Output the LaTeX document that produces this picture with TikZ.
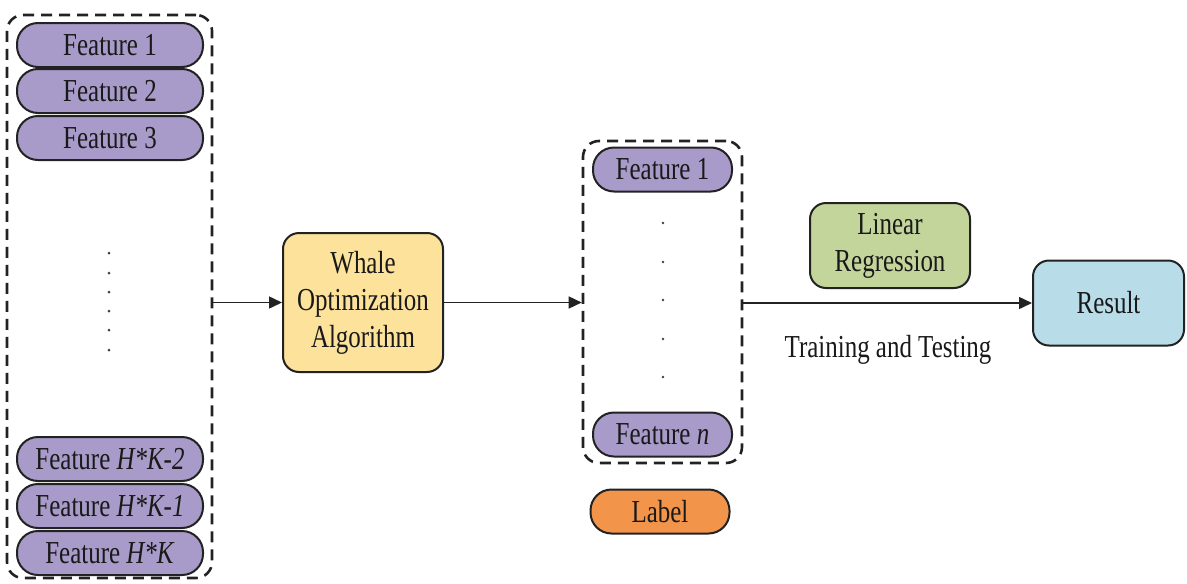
\documentclass[tikz,border=0pt]{standalone}
\usepackage{fontspec}
\setmainfont[FakeStretch=0.78]{Liberation Serif}
\usetikzlibrary{arrows.meta}
\definecolor{pillpurple}{HTML}{A89BC9}
\definecolor{whaleyellow}{HTML}{FCE29A}
\definecolor{lrgreen}{HTML}{C3D59B}
\definecolor{resblue}{HTML}{B8DDE9}
\definecolor{labelorange}{HTML}{F3944B}
\definecolor{edge}{HTML}{222222}
\begin{document}
\begin{tikzpicture}[x=1pt,y=-1pt,
  txt/.style={font=\fontsize{32}{37}\selectfont, text=black!90, align=center, inner sep=0pt},
  pill/.style={txt, draw=edge, line width=2pt, fill=pillpurple, rounded corners=21pt, minimum width=186pt, minimum height=44pt},
  pillm/.style={pill, minimum width=139pt},
  boxr/.style={txt, draw=edge, line width=2pt, rounded corners=16pt},
  group/.style={draw=edge, line width=2.6pt, dash pattern=on 11pt off 7pt, rounded corners=16pt, inner sep=0pt},
  conn/.style={draw=edge, line width=1.5pt, -{Triangle[length=13pt,width=12pt]}},
  dot/.style={circle, fill=black!75, inner sep=0pt, minimum size=3pt}
]
\useasboundingbox (0,0) rectangle (1187,584);
% left group
\node[group, minimum width=205pt, minimum height=563pt] (lg) at (109.5,296.5) {};
\node[pill] (f1) at (110,45) {Feature 1};
\node[pill] (f2) at (110,91) {Feature 2};
\node[pill] (f3) at (110,138) {Feature 3};
\node[pill] (fk2) at (110,459) {Feature \textit{H*K-2}};
\node[pill] (fk1) at (110,506) {Feature \textit{H*K-1}};
\node[pill] (fk) at (110,553) {Feature \textit{H*K}};
\foreach \y [count=\i] in {253,273,292,311,330,350} \node[dot] (ld\i) at (109,\y) {};
% whale
\node[boxr, fill=whaleyellow, minimum width=160pt, minimum height=139pt] (woa) at (363,302.5) {Whale\\Optimization\\Algorithm};
% middle group
\node[group, minimum width=159pt, minimum height=322pt] (mg) at (662.5,302) {};
\node[pillm] (m1) at (662.5,169.5) {Feature 1};
\node[pillm] (mn) at (662.5,434.5) {Feature \textit{n}};
\foreach \y [count=\i] in {223,262,300,339,377} \node[dot, minimum size=2.6pt] (md\i) at (663,\y) {};
\node[pillm, fill=labelorange] (lab) at (660,511.5) {Label};
% linear regression
\node[boxr, fill=lrgreen, minimum width=160pt, minimum height=85pt] (lr) at (890,245.5) {Linear\\Regression};
% result
\node[boxr, fill=resblue, minimum width=151pt, minimum height=85pt] (res) at (1108.5,303) {Result};
\node[txt] (tt) at (888,350) {Training and Testing};
% connectors
\draw[conn] (lg.east |- woa.west) -- (woa.west);
\draw[conn] (woa.east) -- (mg.west |- woa.east);
\draw[conn] (mg.east |- res.west) -- (res.west);
\end{tikzpicture}
\end{document}
